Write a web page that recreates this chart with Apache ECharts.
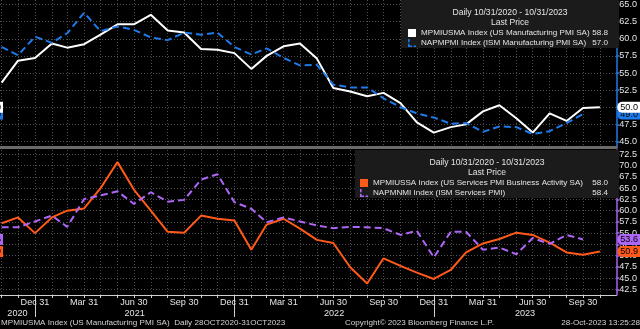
<!DOCTYPE html>
<html>
<head>
<meta charset="utf-8">
<script src="https://cdn.jsdelivr.net/npm/echarts@6/dist/echarts.min.js"></script>
<style>
  html, body { margin: 0; padding: 0; background: #000; }
  #chart { width: 640px; height: 329px; }
</style>
</head>
<body>
<div id="chart"></div>
<script>
// Month-end observation dates
const months = [
  '2020-10-31','2020-11-30','2020-12-31','2021-01-31','2021-02-28','2021-03-31','2021-04-30',
  '2021-05-31','2021-06-30','2021-07-31','2021-08-31','2021-09-30','2021-10-31','2021-11-30',
  '2021-12-31','2022-01-31','2022-02-28','2022-03-31','2022-04-30','2022-05-31','2022-06-30',
  '2022-07-31','2022-08-31','2022-09-30','2022-10-31','2022-11-30','2022-12-31','2023-01-31',
  '2023-02-28','2023-03-31','2023-04-30','2023-05-31','2023-06-30','2023-07-31','2023-08-31',
  '2023-09-30','2023-10-31'
];

// Manufacturing panel
const usMfgPmi = [53.6, 56.8, 57.2, 59.3, 58.7, 59.2, 60.6, 62.1, 62.1, 63.5, 61.2, 60.9, 58.5,
  58.4, 57.9, 55.6, 57.5, 58.9, 59.3, 57.1, 52.8, 52.3, 51.6, 52.1, 50.6, 47.8, 46.3, 47.1,
  47.5, 49.4, 50.3, 48.4, 46.3, 49.1, 48.0, 49.9, 50.0];
const ismMfgPmi = [58.8, 57.6, 60.3, 59.4, 60.8, 63.8, 61.1, 61.8, 61.3, 60.2, 59.8, 60.9, 60.6,
  60.9, 58.8, 57.7, 58.6, 57.2, 56.1, 56.2, 53.3, 52.9, 52.9, 51.3, 50.0, 49.1, 48.5, 47.6,
  47.7, 46.4, 47.2, 47.1, 46.1, 46.5, 47.7, 49.0];

// Services panel
const usSvcPmi = [57.2, 58.5, 55.0, 58.5, 60.0, 60.5, 65.0, 70.8, 64.7, 60.0, 55.3, 55.1, 58.9,
  58.2, 57.8, 51.3, 56.9, 58.2, 56.0, 53.5, 52.8, 47.4, 43.8, 49.4, 47.7, 46.2, 44.8, 46.8,
  50.7, 52.7, 53.7, 55.1, 54.6, 52.9, 50.7, 50.2, 50.9];
const ismSvcPmi = [56.3, 56.3, 57.6, 58.9, 56.4, 62.6, 63.4, 64.3, 61.5, 64.1, 62.0, 62.4, 66.9,
  68.1, 61.9, 60.4, 57.4, 58.5, 57.6, 56.7, 56.1, 56.4, 56.3, 56.1, 54.6, 55.5, 49.6, 55.3,
  55.3, 51.3, 51.8, 50.3, 53.9, 52.6, 54.6, 53.6];

// Series names and the "Last Price" column of each legend
const seriesNames = [
  'MPMIUSMA Index (US Manufacturing PMI SA)',
  'NAPMPMI Index (ISM Manufacturing PMI SA)',
  'MPMIUSSA Index (US Services PMI Business Activity SA)',
  'NAPMNMI Index (ISM Services PMI)'
];
const legendPrices = ['58.8', '57.0', '58.0', '58.4'];

// Axis ticks
const topTicks = [45, 47.5, 50, 52.5, 55, 57.5, 60, 62.5, 65];
const bottomTicks = [42.5, 45, 47.5, 50, 52.5, 55, 57.5, 60, 62.5, 65, 67.5, 70, 72.5];
const quarterTicks = ['2020-12-31','2021-03-31','2021-06-30','2021-09-30','2021-12-31','2022-03-31',
  '2022-06-30','2022-09-30','2022-12-31','2023-03-31','2023-06-30','2023-09-30'];
const yearBreaks = ['2020-12-31', '2021-12-31', '2022-12-31'];
const rangeStart = '2020-10-28';
const rangeEnd = '2023-11-30';

const MONTH_NAMES = ['Jan','Feb','Mar','Apr','May','Jun','Jul','Aug','Sep','Oct','Nov','Dec'];
const FONT = "'Liberation Sans', Arial, sans-serif";

// The terminal font is narrow: size the text so a legend entry keeps its column width
const FS = (function () {
  const ctx = document.createElement('canvas').getContext('2d');
  ctx.font = '10px ' + FONT;
  const w = ctx.measureText(seriesNames[0]).width;
  return Math.max(7.5, Math.min(10, Math.round(10 * 168 / w * 10) / 10));
})();

const TXT = '#e4e4e4';
const GRIDLINE = { show: true, lineStyle: { color: '#4d4d4d', width: 1, type: [1, 2] } };

const ts = s => { const [y, m, d] = s.split('-').map(Number); return Date.UTC(y, m - 1, d); };
const pairs = arr => arr.map((v, i) => [ts(months[i]), v]);
const xMin = ts(rangeStart), xMax = ts(rangeEnd);
const bounds = [xMin, ...yearBreaks.map(ts), xMax];
const yearCenters = bounds.slice(0, -1).map((b, i) => (b + bounds[i + 1]) / 2);

// Value tag on the right axis (plus its clipped twin on the left edge)
function valueTag(value, bg, fg, z) {
  const base = {
    show: true, formatter: value.toFixed(1), backgroundColor: bg, color: fg, opacity: 1,
    fontFamily: FONT, fontSize: FS + 1, lineHeight: 10, padding: [1, 2, 0, 3]
  };
  return {
    silent: true, symbol: 'none', z: z, animation: false,
    lineStyle: { color: 'rgba(0,0,0,0)', width: 1, type: 'solid' },
    emphasis: { disabled: true },
    data: [
      { yAxis: value, label: Object.assign({}, base, { position: 'end', distance: 1, borderRadius: [5, 0, 0, 5] }) },
      { yAxis: value, label: Object.assign({}, base, { position: 'start', distance: -3, borderRadius: 0 }) }
    ]
  };
}

function legendFor(names, prices, nameWidth, right, top, pad, icons) {
  const priceOf = {};
  names.forEach((n, i) => { priceOf[n] = prices[i]; });
  return {
    data: names.map((n, i) => ({ name: n, icon: icons[i] })),
    orient: 'vertical', right: right, top: top, padding: pad,
    itemWidth: 8, itemHeight: 8, itemGap: 0, selectedMode: false,
    backgroundColor: '#1b1b1b',
    formatter: n => `{n|${n}}{v|${priceOf[n]}}`,
    textStyle: {
      color: TXT, fontFamily: FONT, fontSize: FS, lineHeight: 10,
      rich: {
        n: { width: nameWidth, fontFamily: FONT, fontSize: FS, lineHeight: 10, color: TXT },
        v: { width: 25, align: 'right', fontFamily: FONT, fontSize: FS, lineHeight: 10, color: TXT }
      }
    }
  };
}

const dashedIcon = 'path://M0,0h2v4h-2z M0,6h2v4h-2z M2,8h3v2h-3z M7,8h3v2h-3z';

// Horizontal date axis: millisecond timestamps on a linear scale
function dateAxis(gridIndex, extra) {
  return Object.assign({
    type: 'value', gridIndex: gridIndex, min: xMin, max: xMax, scale: true,
    axisPointer: { show: false }
  }, extra);
}

function rightAxis(gridIndex, min, max, ticks, color) {
  return {
    type: 'value', gridIndex: gridIndex, position: 'right', min: min, max: max,
    axisLine: { show: true, lineStyle: { color: color, width: 1.5 } },
    axisTick: { show: true, length: 3, customValues: ticks, lineStyle: { color: color, width: 1.5 } },
    axisLabel: {
      customValues: ticks, formatter: v => v.toFixed(1), margin: 3,
      color: TXT, fontFamily: FONT, fontSize: FS + 1
    },
    splitLine: GRIDLINE
  };
}

const titleStyle = { color: TXT, fontFamily: FONT, fontSize: FS + 0.5, lineHeight: 10, fontWeight: 'normal' };
const footStyle = { fill: '#d4d4d4', font: FS + 'px ' + FONT };

const chart = echarts.init(document.getElementById('chart'), null, { renderer: 'canvas' });

chart.setOption({
  backgroundColor: '#000',
  animation: false,
  textStyle: { fontFamily: FONT },
  grid: [
    { left: 0, right: 21, top: 0, height: 147 },
    { left: 0, right: 21, top: 150, height: 145 }
  ],
  title: [
    {
      text: 'Daily 10/31/2020 - 10/31/2023', subtext: 'Last Price',
      left: 510, top: 8, textAlign: 'center', padding: 0, itemGap: 0,
      textStyle: titleStyle, subtextStyle: titleStyle
    },
    {
      text: 'Daily 10/31/2020 - 10/31/2023', subtext: 'Last Price',
      left: 487, top: 158, textAlign: 'center', padding: 0, itemGap: 0,
      textStyle: titleStyle, subtextStyle: titleStyle
    }
  ],
  legend: [
    legendFor(seriesNames.slice(0, 2), legendPrices.slice(0, 2), 162, 21, 0, [28, 11, 0, 7], ['rect', dashedIcon]),
    legendFor(seriesNames.slice(2, 4), legendPrices.slice(2, 4), 210, 21, 150, [28, 11, 0, 5], ['rect', dashedIcon])
  ],
  xAxis: [
    dateAxis(0, {
      axisLine: { show: true, onZero: false, lineStyle: { color: '#6a6a6a', width: 3 } },
      axisTick: { show: false, customValues: months.map(ts) },
      axisLabel: { show: false },
      splitLine: GRIDLINE
    }),
    dateAxis(1, {
      axisLine: { show: true, onZero: false, lineStyle: { color: '#d0d0d0', width: 1 } },
      axisTick: { show: true, length: 3, customValues: months.map(ts), lineStyle: { color: '#d0d0d0' } },
      axisLabel: {
        customValues: quarterTicks.map(ts), margin: 3, hideOverlap: false,
        color: TXT, fontFamily: FONT, fontSize: FS + 1,
        formatter: v => { const d = new Date(v); return MONTH_NAMES[d.getUTCMonth()] + ' ' + d.getUTCDate(); }
      },
      splitLine: GRIDLINE
    }),
    dateAxis(1, {
      position: 'bottom', offset: 0,
      axisLine: { show: false, onZero: false },
      axisTick: { show: true, length: 22, customValues: yearBreaks.map(ts), lineStyle: { color: '#d0d0d0' } },
      axisLabel: {
        customValues: yearCenters, margin: 14, hideOverlap: false,
        color: TXT, fontFamily: FONT, fontSize: FS + 1,
        formatter: v => String(new Date(v).getUTCFullYear())
      },
      splitLine: { show: false }
    })
  ],
  yAxis: [
    rightAxis(0, 44.197, 65.657, topTicks, '#1f7ae8'),
    rightAxis(1, 41.23, 73.5, bottomTicks, '#a862f2')
  ],
  graphic: [
    { type: 'text', left: 1, top: 319, style: Object.assign({ text: 'MPMIUSMA Index (US Manufacturing PMI SA)  Daily 28OCT2020-31OCT2023' }, footStyle) },
    { type: 'text', left: 345, top: 319, style: Object.assign({ text: 'Copyright\u00A9 2023 Bloomberg Finance L.P.' }, footStyle) },
    { type: 'text', right: 0, top: 319, style: Object.assign({ text: '28-Oct-2023 13:25:28' }, footStyle) }
  ],
  series: [
    {
      name: seriesNames[0], type: 'line', xAxisIndex: 0, yAxisIndex: 0,
      data: pairs(usMfgPmi), symbol: 'none', color: '#ffffff',
      lineStyle: { color: '#ffffff', width: 2 },
      markLine: valueTag(usMfgPmi[usMfgPmi.length - 1], '#ffffff', '#000000', 8)
    },
    {
      name: seriesNames[1], type: 'line', xAxisIndex: 0, yAxisIndex: 0,
      data: pairs(ismMfgPmi), symbol: 'none', color: '#1f7ae8',
      lineStyle: { color: '#1f7ae8', width: 2, type: [7, 4] },
      markLine: valueTag(ismMfgPmi[ismMfgPmi.length - 1], '#1f7ae8', '#000000', 6)
    },
    {
      name: seriesNames[2], type: 'line', xAxisIndex: 1, yAxisIndex: 1,
      data: pairs(usSvcPmi), symbol: 'none', color: '#ff5a1a',
      lineStyle: { color: '#ff5a1a', width: 2 },
      markLine: valueTag(usSvcPmi[usSvcPmi.length - 1], '#ff5a1a', '#000000', 6)
    },
    {
      name: seriesNames[3], type: 'line', xAxisIndex: 1, yAxisIndex: 1,
      data: pairs(ismSvcPmi), symbol: 'none', color: '#ad66f5',
      lineStyle: { color: '#ad66f5', width: 2, type: [7, 4] },
      markLine: valueTag(ismSvcPmi[ismSvcPmi.length - 1], '#ad66f5', '#000000', 8)
    }
  ]
});
</script>
</body>
</html>
